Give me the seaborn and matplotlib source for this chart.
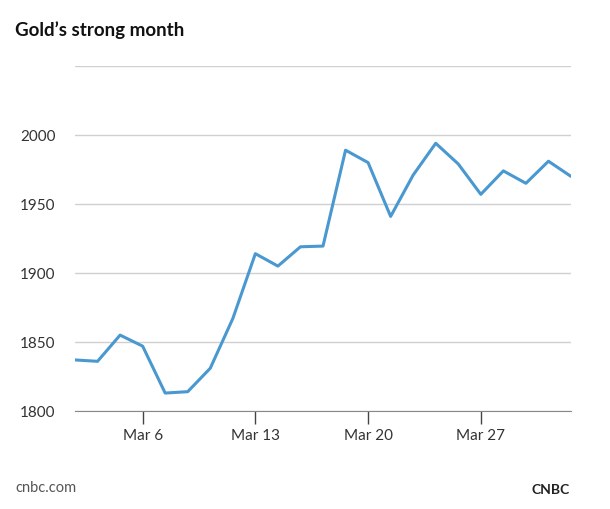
import matplotlib
matplotlib.use("Agg")
import matplotlib.pyplot as plt
import seaborn as sns
import pandas as pd

dates = ["Mar 1","Mar 2","Mar 3","Mar 6","Mar 7","Mar 8","Mar 9","Mar 10","Mar 13","Mar 14",
         "Mar 15","Mar 16","Mar 17","Mar 20","Mar 21","Mar 22","Mar 23","Mar 24","Mar 27",
         "Mar 28","Mar 29","Mar 30","Mar 31"]
prices = [1837,1836,1855,1847,1813,1814,1831,1867,1914,1905,1919,1919.5,1989,1980,1941,
          1971,1994,1979,1957,1974,1965,1981,1970]
tick_labels = ["Mar 6","Mar 13","Mar 20","Mar 27"]
yticks = [1800,1850,1900,1950,2000,2050]

sns.set_style("white")
plt.rcParams['font.family'] = ['Lato', 'DejaVu Sans']
df = pd.DataFrame({"i": range(len(dates)), "price": prices})

fig = plt.figure(figsize=(6.1,5.1), dpi=100)
ax = fig.add_axes([75/610, 1-412/510, (571-75)/610, (412-67)/510])
sns.lineplot(data=df, x="i", y="price", ax=ax, color="#4a98d0", linewidth=2.2)
ax.set_xlim(0, len(dates)-1)
ax.set_ylim(1800, 2050)
ax.set_yticks(yticks)
ax.set_yticklabels([str(v) if v < 2050 else "" for v in yticks], fontsize=11, color="#333333")
ax.set_xticks([dates.index(t) for t in tick_labels])
ax.set_xticklabels(tick_labels, fontsize=11, color="#333333")
ax.tick_params(axis="x", bottom=True, direction="out", length=9, width=1, color="#444444", pad=3)
ax.tick_params(axis="y", length=0, pad=14)
ax.grid(axis="y", color="#d0d0d0", linewidth=1)
for s in ["left","right","top"]:
    ax.spines[s].set_visible(False)
ax.spines["bottom"].set_color("#888888")
ax.set_xlabel(""); ax.set_ylabel("")

fig.text(15/610, 1-30/510, "Gold’s strong month", fontsize=13.5, fontweight="bold", va="center", color="#111111")
fig.text(15/610, 1-488/510, "cnbc.com", fontsize=10.5, va="center", color="#555555")
fig.text(551/610, 1-490/510, "CNBC", fontsize=10, fontweight="bold", ha="center", va="center", color="#222222")
fig.savefig("out.png", dpi=100)
